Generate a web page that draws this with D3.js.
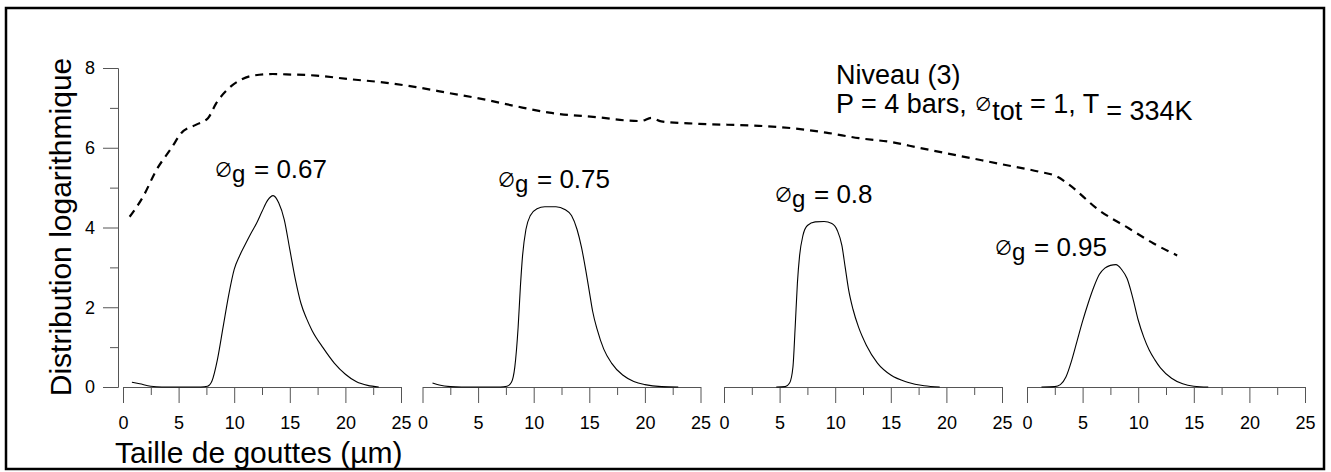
<!DOCTYPE html>
<html><head><meta charset="utf-8">
<script src="https://cdn.jsdelivr.net/npm/d3@7"></script>
<style>
body{margin:0;background:#fff}
svg{display:block}
text{font-family:"Liberation Sans",Arial,Helvetica,sans-serif;fill:#000}
</style></head><body>
<svg id="chart" width="1331" height="472"></svg>
<script>
// ---------- data ----------
const gammaLabels = ["0.67", "0.75", "0.8", "0.95"];

const size1 = [0.8,1.5,2.5,3.5,5,7,7.6,8.0,8.5,9.0,9.5,10.0,10.5,11.0,11.5,12.0,12.5,13.0,13.5,14.0,14.5,15.0,15.5,16.0,16.5,17.0,18.0,19.0,20.0,21.0,22.0,23.0];
const dist1 = [0.12,0.08,0.02,0,0,0,0.02,0.15,0.7,1.5,2.3,2.95,3.3,3.58,3.85,4.1,4.4,4.68,4.8,4.62,4.2,3.45,2.7,2.1,1.72,1.42,0.98,0.6,0.32,0.13,0.04,0];

const size2 = [0.9,1.5,2.5,3.5,7.0,7.6,8.0,8.3,8.6,8.8,9.0,9.3,9.7,10.3,11.0,12.0,12.8,13.4,13.9,14.3,14.7,15.0,15.3,15.7,16.3,17.0,18.0,19.0,20.0,21.5,23.0];
const dist2 = [0.1,0.05,0.01,0,0,0.02,0.12,0.5,1.5,2.5,3.3,3.95,4.3,4.47,4.52,4.52,4.45,4.3,3.95,3.5,2.9,2.4,1.9,1.45,0.95,0.6,0.3,0.14,0.06,0.01,0];

const size3 = [4.7,5.5,5.9,6.2,6.4,6.6,6.8,7.1,7.5,8.2,9.0,9.7,10.2,10.6,10.9,11.2,11.6,12.1,12.8,13.8,15.0,16.5,18.0,19.4];
const dist3 = [0,0.01,0.1,0.5,1.5,2.6,3.3,3.8,4.05,4.14,4.15,4.1,3.92,3.55,3.0,2.45,1.95,1.5,1.05,0.6,0.3,0.12,0.03,0];

const size4 = [1.3,2.5,3.0,3.5,4.0,4.5,5.0,5.5,6.0,6.5,7.0,7.5,8.0,8.5,9.0,9.5,10.0,10.5,11.0,11.5,12.0,13.0,14.0,15.0,16.3];
const dist4 = [0,0.01,0.06,0.25,0.65,1.15,1.65,2.1,2.5,2.82,2.98,3.05,3.07,2.95,2.72,2.25,1.68,1.25,0.92,0.68,0.48,0.22,0.08,0.02,0];

// dashed envelope, abscissa expressed in the first panel's units
const envSize = [0.6,1.8,3.0,4.35,5.25,6.59,7.64,8.39,9.43,10.49,11.69,13.48,14.68,17.38,20.37,23.36,26.36,29.35,32.35,35.35,38.34,42.83,45.53,46.6,47.5,48.4,51.81,57.2,60.17,63.22,66.19,69.15,71.58,75.17,78.77,82.36,83.97,85.05,87.74,90.44,92.68,94.8];
const envDist = [4.27,4.77,5.44,5.99,6.37,6.58,6.74,7.12,7.47,7.69,7.81,7.85,7.84,7.81,7.72,7.64,7.52,7.37,7.22,7.04,6.88,6.76,6.68,6.67,6.75,6.66,6.6,6.55,6.49,6.38,6.24,6.14,6.0,5.8,5.6,5.4,5.28,5.08,4.44,3.98,3.6,3.3];

const xTicks = [0, 5, 10, 15, 20, 25];
const xMinorTicks = [2.5, 7.5, 12.5, 17.5, 22.5];
const yTicks = [0, 2, 4, 6, 8];
const yMinorTicks = [1, 3, 5, 7];
const xTitle = "Taille de gouttes (µm)";
const yTitle = "Distribution logarithmique";
const header1 = "Niveau (3)";

// ---------- layout ----------
const svg = d3.select("#chart");
const panelStart = [123, 422.5, 724, 1027];
const panelW = 278;
const yAxisX = 118;
const axisY = 387;
const y = d3.scaleLinear().domain([0, 8]).range([387, 68]);
const xs = panelStart.map(s => d3.scaleLinear().domain([0, 25]).range([s, s + panelW]));
const sizes = [size1, size2, size3, size4];
const dists = [dist1, dist2, dist3, dist4];
const axisColor = "#555";
const symFont = '"Noto Sans CJK JP","DejaVu Sans",sans-serif';

// frame
svg.append("rect").attr("x", 6).attr("y", 8).attr("width", 1318).attr("height", 461)
  .attr("fill", "none").attr("stroke", "#000").attr("stroke-width", 2.5);

function styleAxis(g) {
  g.selectAll("path,line").attr("stroke", axisColor);
  g.selectAll("text").attr("fill", "#000").attr("font-family", '"Liberation Sans",Arial,sans-serif');
}

// y axis
const yMinor = svg.append("g").attr("transform", `translate(${yAxisX},0)`)
  .call(d3.axisLeft(y).tickValues(yMinorTicks).tickSize(8).tickSizeOuter(0).tickFormat(""));
const yMajor = svg.append("g").attr("transform", `translate(${yAxisX},0)`)
  .call(d3.axisLeft(y).tickValues(yTicks).tickSize(15).tickSizeOuter(0).tickPadding(8).tickFormat(d3.format("d")));
yMajor.selectAll("text").attr("font-size", 18);
styleAxis(yMinor); styleAxis(yMajor);

// x axes
xs.forEach(x => {
  const gmin = svg.append("g").attr("transform", `translate(0,${axisY})`)
    .call(d3.axisBottom(x).tickValues(xMinorTicks).tickSize(8).tickSizeOuter(0).tickFormat(""));
  const gmaj = svg.append("g").attr("transform", `translate(0,${axisY})`)
    .call(d3.axisBottom(x).tickValues(xTicks).tickSize(16).tickSizeOuter(0).tickPadding(13).tickFormat(d3.format("d")));
  gmaj.selectAll("text").attr("font-size", 18);
  styleAxis(gmin); styleAxis(gmaj);
});

// curves
const line = (x) => d3.line().x(d => x(d[0])).y(d => y(d[1])).curve(d3.curveMonotoneX);
sizes.forEach((s, i) => {
  const pts = s.map((v, j) => [v, dists[i][j]]);
  svg.append("path").datum(pts).attr("d", line(xs[i]))
    .attr("fill", "none").attr("stroke", "#000").attr("stroke-width", 1.1);
});

// dashed envelope
svg.append("path").datum(envSize.map((v, j) => [v, envDist[j]]))
  .attr("d", line(xs[0]))
  .attr("fill", "none").attr("stroke", "#000").attr("stroke-width", 2.2)
  .attr("stroke-dasharray", "8,6");

// gamma labels
const labelPos = [[214, 178], [497, 188], [774, 203], [994, 256]];
gammaLabels.forEach((lab, i) => {
  const [lx, ly] = labelPos[i];
  const t = svg.append("text").attr("x", lx).attr("y", ly);
  t.append("tspan").attr("font-size", 19).attr("font-family", symFont).attr("dy", -1).text("∅");
  t.append("tspan").attr("x", lx + 18).attr("dy", 5).attr("font-size", 24).text("g");
  t.append("tspan").attr("x", lx + 40).attr("dy", -4).attr("font-size", 26).text("= " + lab);
});

// header
svg.append("text").attr("x", 836).attr("y", 84).attr("font-size", 27).text(header1);
const h2 = svg.append("text").attr("x", 836).attr("y", 113).attr("font-size", 27);
h2.append("tspan").text("P = 4 bars, ");
h2.append("tspan").attr("font-size", 18).attr("font-family", symFont).attr("dy", -2).text("∅");
h2.append("tspan").attr("dy", 9).text("tot");
h2.append("tspan").attr("dy", -7).text(" = 1, T");
h2.append("tspan").attr("dy", 7).text(" = 334K");

// axis titles
svg.append("text").attr("x", 115).attr("y", 463).attr("font-size", 30).text(xTitle);
svg.append("text").attr("transform", "translate(71,227) rotate(-90)")
  .attr("text-anchor", "middle").attr("font-size", 30).text(yTitle);
</script>
</body></html>
